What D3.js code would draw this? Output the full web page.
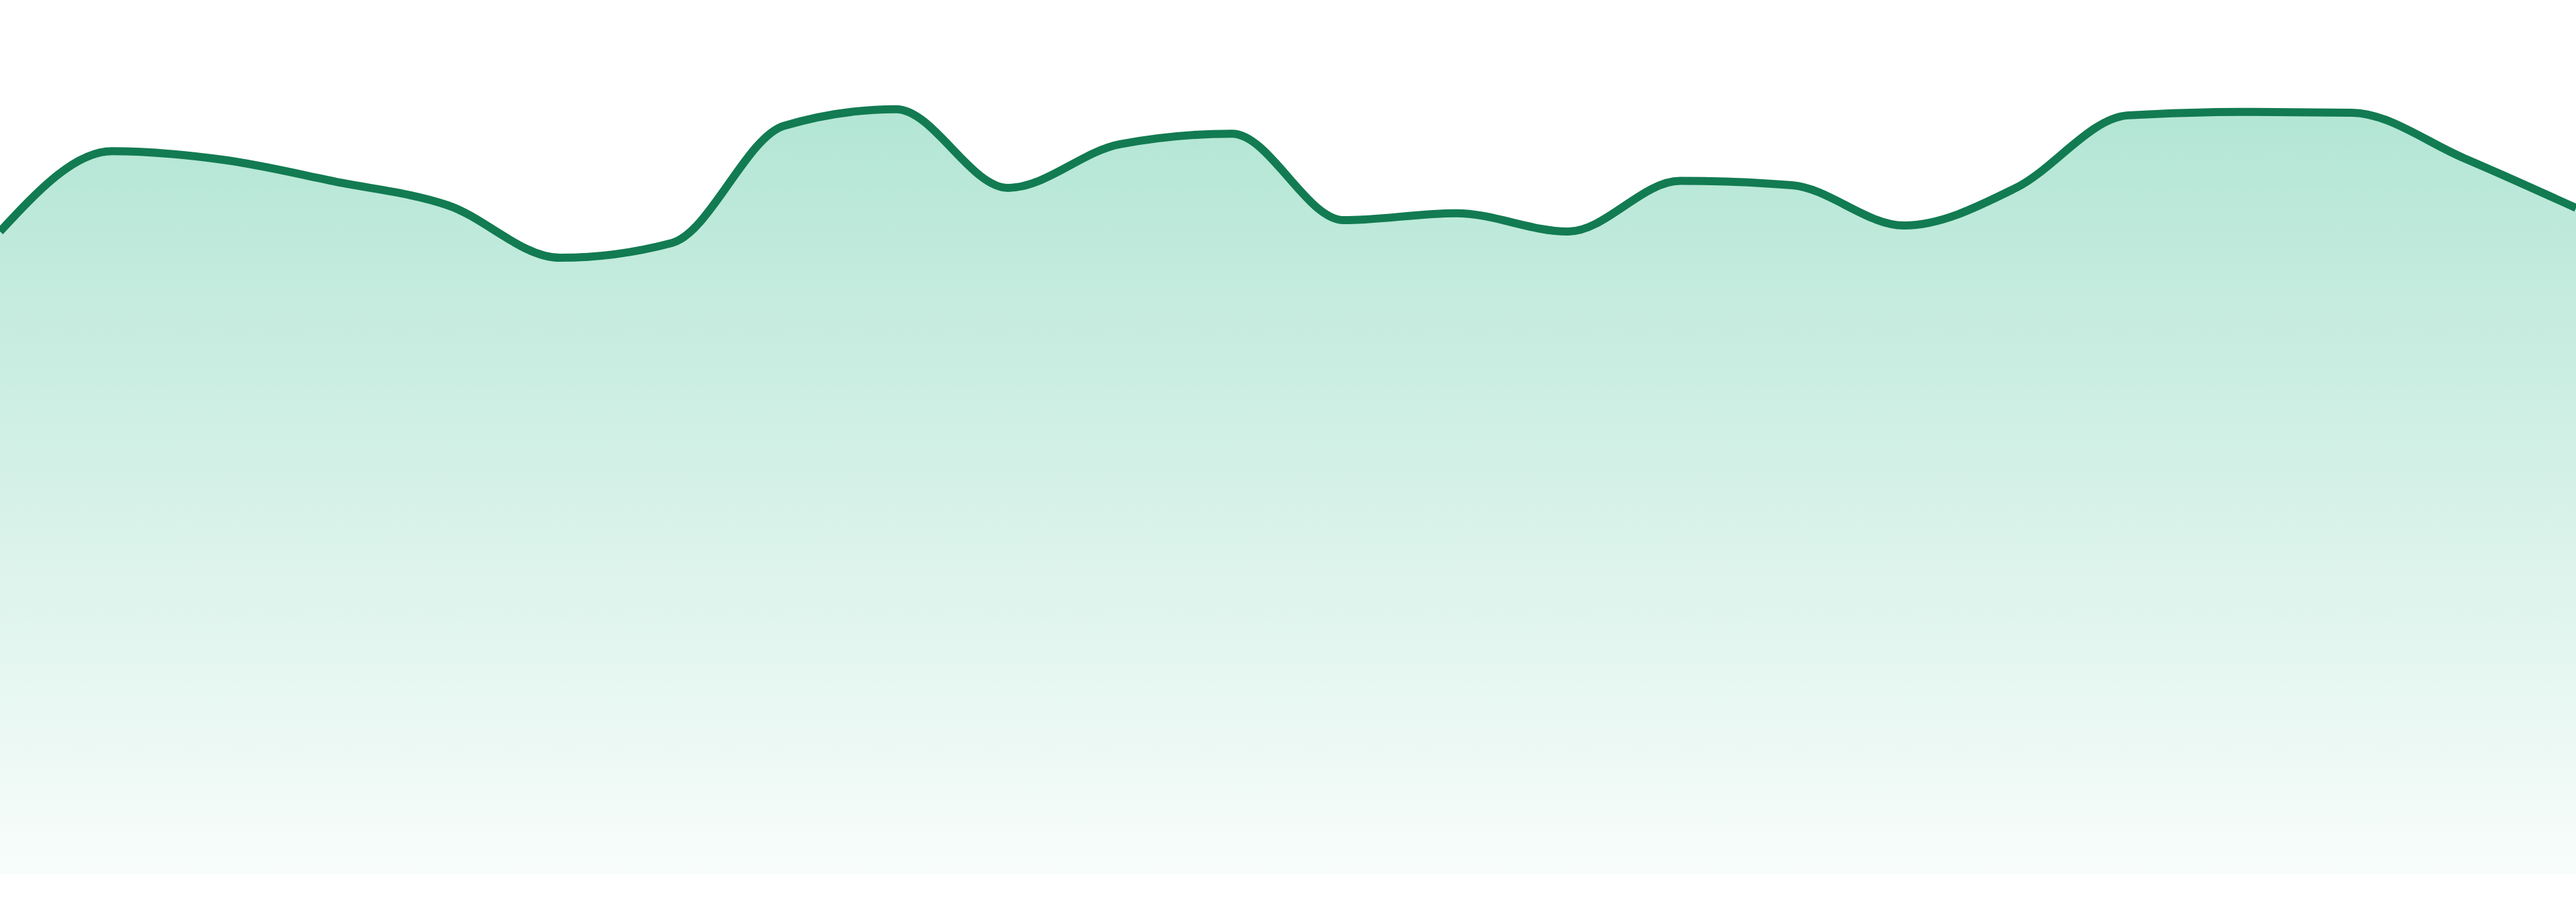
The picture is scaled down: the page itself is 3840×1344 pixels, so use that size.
<!DOCTYPE html>
<html>
<head>
<meta charset="utf-8">
<script src="https://cdn.jsdelivr.net/npm/d3@7"></script>
<style>
  html, body { margin: 0; padding: 0; background: #ffffff; overflow: hidden; }
  #chart { width: 3840px; height: 1344px; }
</style>
</head>
<body>
<div id="chart"></div>
<script>
// Datos: 24 puntos (horas)
const hours = d3.range(0, 24);
const values = [
  73.5, 82.7, 81.7, 79.2, 76.5, 70.5, 72.2, 85.6,
  87.5, 78.5, 83.5, 84.7, 74.8, 75.6, 73.5, 79.3,
  78.8, 74.2, 78.5, 86.8, 87.2, 87.1, 81.9, 76.2
];
const yDomain = [0, 100];

function renderAreaChart() {
  d3.select("#chart").html("");

  const width = 3840;
  const height = 1344;
  const margin = { top: 0, right: 0, bottom: 42, left: 0 };

  const svg = d3.select("#chart")
    .append("svg")
    .attr("width", width)
    .attr("height", height);

  const data = hours.map((h, i) => ({ hour: h, value: values[i] }));

  const x = d3.scaleLinear()
    .domain(d3.extent(hours))
    .range([margin.left, width - margin.right]);

  const y = d3.scaleLinear()
    .domain(yDomain)
    .range([height - margin.bottom, margin.top]);

  // Degradado vertical del área
  const defs = svg.append("defs");
  const grad = defs.append("linearGradient")
    .attr("id", "areaGradient")
    .attr("gradientUnits", "userSpaceOnUse")
    .attr("x1", 0).attr("x2", 0)
    .attr("y1", y(d3.max(values)))
    .attr("y2", y(0));
  grad.append("stop").attr("offset", "0%")
    .attr("stop-color", "#12b07a").attr("stop-opacity", 0.32);
  grad.append("stop").attr("offset", "100%")
    .attr("stop-color", "#12b07a").attr("stop-opacity", 0.03);

  const area = d3.area()
    .x(d => x(d.hour))
    .y0(y(0))
    .y1(d => y(d.value))
    .curve(d3.curveMonotoneX);

  const line = d3.line()
    .x(d => x(d.hour))
    .y(d => y(d.value))
    .curve(d3.curveMonotoneX);

  svg.append("path")
    .datum(data)
    .attr("d", area)
    .style("fill", "url(#areaGradient)");

  svg.append("path")
    .datum(data)
    .attr("d", line)
    .style("fill", "none")
    .style("stroke", "#127b52")
    .style("stroke-width", 12)
    .style("stroke-linejoin", "round");
}

document.addEventListener("DOMContentLoaded", renderAreaChart);
</script>
</body>
</html>
